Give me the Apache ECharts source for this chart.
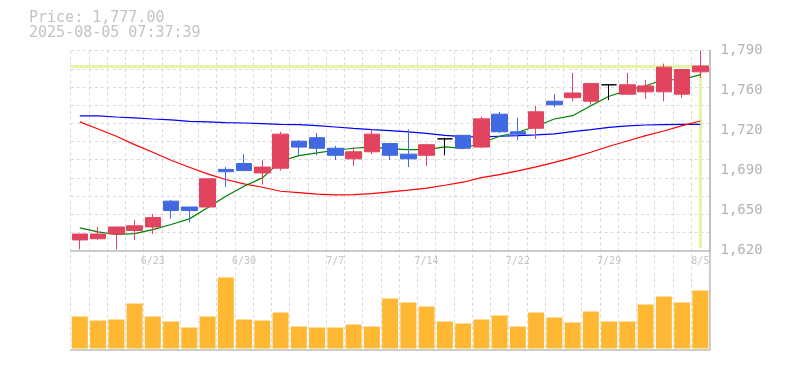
<!DOCTYPE html>
<html>
<head>
<meta charset="utf-8">
<script src="https://cdn.jsdelivr.net/npm/echarts@6/dist/echarts.min.js"></script>
<style>
html,body{margin:0;padding:0;background:#fff;}
#chart{width:785px;height:370px;}
</style>
</head>
<body>
<div id="chart"></div>
<script>
// ---------- data ----------
const headerPrice = 'Price: 1,777.00';
const headerTime = '2025-08-05 07:37:39';
const currentPrice = 1777;

const dates = ['6/17','6/18','6/19','6/20','6/23','6/24','6/25','6/26','6/27','6/30',
  '7/1','7/2','7/3','7/4','7/7','7/8','7/9','7/10','7/11','7/14',
  '7/15','7/16','7/17','7/18','7/22','7/23','7/24','7/25','7/28','7/29',
  '7/30','7/31','8/1','8/4','8/5'];

const opens  = [1629,1630,1634,1637,1640,1662,1657,1657,1689,1694,
  1686,1690,1713,1716,1707,1698,1704,1711,1702,1701,
  1715,1718,1708,1736,1721,1724,1747,1750,1747,1761,
  1753,1755,1755,1753,1772];
const closes = [1634,1634,1640,1641,1648,1654,1654,1681,1687,1688,
  1691,1719,1708,1707,1701,1704,1719,1701,1698,1710,
  1715,1707,1732,1721,1719,1738,1744,1754,1762,1761,
  1761,1760,1776,1774,1777];
const lows   = [1621,1629,1621,1629,1634,1647,1644,1657,1674,1688,
  1676,1688,1701,1701,1697,1692,1702,1697,1691,1692,
  1701,1706,1707,1720,1714,1715,1742,1747,1744,1748,
  1753,1749,1747,1750,1767];
const highs  = [1634,1640,1640,1646,1651,1663,1657,1681,1691,1702,
  1697,1721,1714,1720,1709,1708,1723,1711,1723,1711,
  1716,1718,1734,1738,1733,1743,1753,1771,1762,1761,
  1771,1765,1779,1774,1790];

const ma5  = [1639.3,1635.9,1633.6,1634.4,1637.8,1642.1,1646.9,1656.3,1666.2,1674.7,
  1681.8,1695.9,1700.7,1703.0,1705.3,1707.0,1708.1,1706.4,1705.8,1705.8,
  1708.1,1707.0,1711.5,1717.2,1720.6,1725.7,1731.9,1734.7,1743.2,1751.2,
  1756.3,1760.2,1765.3,1765.3,1769.6];
const ma25 = [1729.4,1723.4,1717.2,1710.1,1703.6,1696.8,1690.8,1685.2,1680.4,1676.7,
  1673.8,1670.4,1669.3,1667.9,1667.3,1667.6,1668.4,1669.9,1671.3,1673.0,
  1675.5,1678.1,1682.0,1684.6,1687.7,1691.1,1695.0,1699.0,1703.6,1708.7,
  1713.2,1717.7,1721.7,1726.2,1730.2];
const ma75 = [1734.5,1734.5,1733.6,1732.8,1731.9,1731.1,1729.9,1729.4,1728.8,1728.5,
  1727.9,1727.3,1727.1,1726.2,1725.1,1723.9,1722.8,1722.0,1720.9,1719.7,
  1718.0,1716.9,1716.6,1717.2,1717.7,1718.3,1719.2,1721.1,1722.8,1724.8,
  1726.0,1726.8,1727.1,1727.3,1727.3];

const volumes = [320,280,290,450,320,270,210,320,710,290,
  280,360,220,210,210,240,220,500,460,420,
  270,250,290,330,220,360,310,260,370,270,
  270,440,520,460,580];

const priceTickValues = [1620,1654,1688,1722,1756,1790];
const priceTickLabels = ['1,620','1,650','1,690','1,720','1,760','1,790'];

// ---------- chart ----------
const RED = '#e2445f', BLUE = '#4169e1';
const MONO = '"DejaVu Sans Mono", monospace';
const L = 70.7, R = 785 - 709.5;

const candleData = dates.map((d, i) => {
  const item = { value: [opens[i], closes[i], lows[i], highs[i]] };
  if (opens[i] === closes[i]) {
    item.itemStyle = { color: '#000', color0: '#000', borderColor: '#000', borderColor0: '#000' };
  }
  return item;
});

const chart = echarts.init(document.getElementById('chart'), null, { renderer: 'canvas' });
const option = {
  animation: false,
  backgroundColor: '#fff',
  graphic: [
    { type: 'text', x: 29, y: 18, style: { text: headerPrice, fontFamily: MONO, fontSize: 15, fill: '#c3c3c3', verticalAlign: 'middle' } },
    { type: 'text', x: 29, y: 33, style: { text: headerTime, fontFamily: MONO, fontSize: 15, fill: '#c3c3c3', verticalAlign: 'middle' } }
  ],
  grid: [
    { left: L, right: R, top: 50.7, height: 199.8 },
    { left: L, right: R, top: 263, height: 85.5 },
    { left: L, right: R, top: 50.7, height: 299.3 }
  ],
  xAxis: [
    { type: 'category', gridIndex: 0, data: dates, boundaryGap: true,
      axisLine: { show: true, lineStyle: { color: '#bdbdbd', width: 1.5 } },
      axisTick: { show: false },
      axisLabel: { interval: (i) => (i + 1) % 5 === 0, margin: 6, color: '#c4c4c4', fontFamily: MONO, fontSize: 10 },
      splitLine: { show: false } },
    { type: 'category', gridIndex: 1, data: dates, boundaryGap: true, show: false },
    { type: 'category', gridIndex: 2, data: dates, boundaryGap: true,
      axisLine: { show: true, lineStyle: { color: '#bdbdbd', width: 1.5 } },
      axisTick: { show: false }, axisLabel: { show: false },
      splitLine: { show: true, interval: 0, lineStyle: { color: '#dadada', type: [3, 3], width: 1 } } }
  ],
  yAxis: [
    { type: 'value', gridIndex: 0, position: 'right', min: priceTickValues[0], max: priceTickValues[priceTickValues.length - 1], interval: priceTickValues[1] - priceTickValues[0],
      axisLine: { show: true, lineStyle: { color: '#bdbdbd', width: 1.5 } },
      axisTick: { show: false }, splitLine: { show: false },
      axisLabel: { margin: 11, color: '#b3b3b3', fontFamily: MONO, fontSize: 14,
        formatter: (v) => { const k = priceTickValues.findIndex(t => Math.abs(t - v) < 1e-6); return k >= 0 ? priceTickLabels[k] : ''; } } },
    { type: 'value', gridIndex: 0, position: 'left', min: 0, max: 11, interval: 1,
      axisLine: { show: false }, axisTick: { show: false }, axisLabel: { show: false },
      splitLine: { show: true, lineStyle: { color: '#dadada', type: [3, 3], width: 1 } } },
    { type: 'value', gridIndex: 1, min: 0, max: 855, show: false },
    { type: 'value', gridIndex: 2, position: 'right', min: 0, max: 1,
      axisLine: { show: true, lineStyle: { color: '#bdbdbd', width: 1.5 } },
      axisTick: { show: false }, axisLabel: { show: false }, splitLine: { show: false } }
  ],
  series: [
    { type: 'line', name: 'MA75', xAxisIndex: 0, yAxisIndex: 0, data: ma75, showSymbol: false, z: 2,
      lineStyle: { color: '#0000ff', width: 1.2 }, itemStyle: { color: '#0000ff' } },
    { type: 'line', name: 'MA25', xAxisIndex: 0, yAxisIndex: 0, data: ma25, showSymbol: false, z: 2,
      lineStyle: { color: '#ff0000', width: 1.2 }, itemStyle: { color: '#ff0000' } },
    { type: 'line', name: 'MA5', xAxisIndex: 0, yAxisIndex: 0, data: ma5, showSymbol: false, z: 2,
      lineStyle: { color: '#008000', width: 1.2 }, itemStyle: { color: '#008000' } },
    { type: 'candlestick', xAxisIndex: 0, yAxisIndex: 0, data: candleData, barWidth: 16, z: 3,
      itemStyle: { color: RED, color0: BLUE, borderColor: RED, borderColor0: BLUE, borderColorDoji: '#000', borderWidth: 1 },
      markLine: { z: 1, silent: true, symbol: ['none', 'none'], label: { show: false },
        lineStyle: { color: '#e4f5a6', width: 3, type: 'solid' },
        emphasis: { disabled: true },
        data: [
          { yAxis: currentPrice },
          [ { coord: [dates[dates.length - 1], currentPrice] }, { coord: [dates[dates.length - 1], 1622] } ]
        ] } },
    { type: 'bar', xAxisIndex: 1, yAxisIndex: 2, data: volumes, barWidth: 16, itemStyle: { color: '#ffb833' } }
  ]
};
chart.setOption(option);
</script>
</body>
</html>
